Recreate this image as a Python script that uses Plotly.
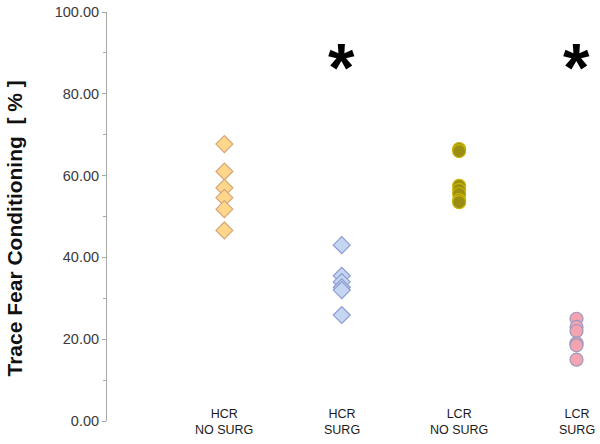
import plotly.graph_objects as go

categories = ["HCR<br>NO SURG", "HCR<br>SURG", "LCR<br>NO SURG", "LCR<br>SURG"]
hcr_no_surg = [67.7, 61.0, 57.0, 54.6, 51.8, 46.6]
hcr_surg = [43.0, 35.5, 34.0, 32.7, 32.0, 25.9]
lcr_no_surg = [66.5, 66.0, 57.5, 56.5, 55.5, 54.0, 53.5]
lcr_surg = [25.0, 23.0, 22.0, 19.0, 18.5, 15.0]
star_groups = [1, 3]
star_level = 86.5
y_title = "Trace Fear Conditioning  [ % ]"

yticks = [0, 20, 40, 60, 80, 100]

fig = go.Figure()

series = [
    (0, hcr_no_surg, "diamond", "#FFD68A", "#D2A77A", 13),
    (1, hcr_surg, "diamond", "#C4D6F2", "#8C9AD0", 13),
    (2, lcr_no_surg, "circle", "#9A8D12", "#C9B400", 13),
    (3, lcr_surg, "circle", "#F3A4B0", "#9A9AC0", 13),
]
for xi, vals, sym, fill, line, size in series:
    fig.add_trace(go.Scatter(
        x=[xi] * len(vals), y=vals, mode="markers",
        marker=dict(symbol=sym, size=size, color=fill,
                    line=dict(color=line, width=1.2)),
        showlegend=False, hoverinfo="y",
    ))

for g in star_groups:
    fig.add_annotation(x=g, y=star_level, xref="x", yref="y", text="<b>*</b>",
                       showarrow=False, yanchor="middle",
                       font=dict(family="Liberation Sans, Arial", size=68, color="#000000"))

for i, c in enumerate(categories):
    fig.add_annotation(x=i, y=0, xref="x", yref="paper", text=c,
                       showarrow=False, yanchor="middle", yshift=-1,
                       font=dict(family="Liberation Sans, Arial", size=12.5, color="#1a1a1a"))

# y-axis title placed as rotated annotation (slightly below axis centre, as in reference)
fig.add_annotation(x=0, y=0.5, xref="paper", yref="paper", text=f"<b>{y_title}</b>",
                   textangle=-90, showarrow=False, xanchor="center", yanchor="middle",
                   xshift=-93, yshift=-12,
                   font=dict(family="Liberation Sans, Arial", size=21, color="#111111"))

fig.update_layout(
    width=600, height=444,
    margin=dict(l=107, r=0, t=12, b=23),
    paper_bgcolor="white", plot_bgcolor="white",
    font=dict(family="Liberation Sans, Arial", color="#333333"),
    xaxis=dict(range=[-1.0, 3.2], visible=False, showgrid=False, zeroline=False),
    yaxis=dict(
        range=[0, 100], tickvals=yticks, ticktext=[f"{v:.2f}" for v in yticks],
        showline=True, linecolor="#A6A6A6", linewidth=1,
        ticks="outside", ticklen=4, tickcolor="#A6A6A6",
        minor=dict(dtick=10, ticks="outside", ticklen=3, tickcolor="#A6A6A6"),
        showgrid=False, zeroline=False,
        tickfont=dict(size=14.5, color="#3a3a3a"),
    ),
)

fig.write_html("out.html", config={"displayModeBar": False},
               post_script="document.body.style.margin='0';document.body.style.overflow='hidden';")
